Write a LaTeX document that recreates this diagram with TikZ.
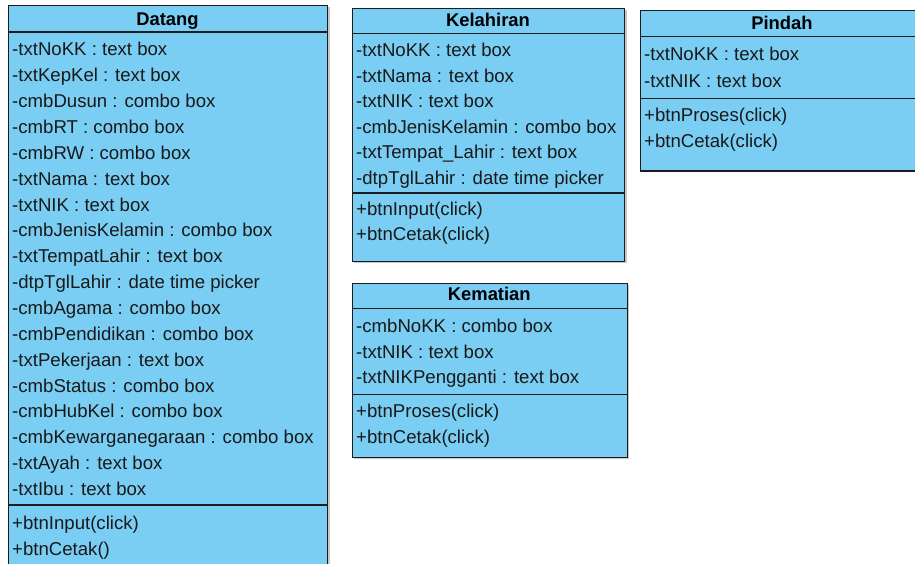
\documentclass[tikz,border=0pt]{standalone}
\usepackage{fontspec}
\setmainfont{Liberation Sans}
\definecolor{classfill}{RGB}{122,206,244}
\definecolor{classline}{RGB}{28,28,28}
\definecolor{membertext}{RGB}{25,25,25}
\tikzset{
  classbox/.style={draw=classline, fill=classfill, line width=1.3pt, inner sep=0pt, anchor=north west},
  boxshadow/.style={fill=black!22, draw=none},
  member/.style={anchor=base west, inner sep=0pt, text=membertext, font=\fontsize{18.6}{21}\selectfont},
  classname/.style={anchor=base, inner sep=0pt, text=black, font=\bfseries\fontsize{18.4}{21}\selectfont},
  divider/.style={draw=classline, line width=1.3pt},
}
\begin{document}
\begin{tikzpicture}[x=1pt,y=-1pt]
\useasboundingbox (0,0) rectangle (915,564);

% ---------- Datang ----------
\fill[boxshadow] (10,7) rectangle (330,580);
\node[classbox, minimum width=319pt, minimum height=575pt] (datang) at (8,5) {};
\node[classname] (datang-name) at (167.5,26) {Datang};
\draw[divider] (datang.west |- 0,32) -- (datang.east |- 0,32);
\foreach [count=\i] \t in {-txtNoKK : text box, -txtKepKel : text box, -cmbDusun : combo box,
  -cmbRT : combo box, -cmbRW : combo box, -txtNama : text box, -txtNIK : text box,
  -cmbJenisKelamin : combo box, -txtTempatLahir : text box, -dtpTglLahir : date time picker,
  -cmbAgama : combo box, -cmbPendidikan : combo box, -txtPekerjaan : text box,
  -cmbStatus : combo box, -cmbHubKel : combo box, -cmbKewarganegaraan : combo box,
  -txtAyah : text box, -txtIbu : text box}
  \node[member] (datang-a\i) at (12,{56+(\i-1)*25.85}) {\t};
\draw[divider] (datang.west |- 0,505) -- (datang.east |- 0,505);
\node[member] (datang-m1) at (12,529.5) {+btnInput(click)};
\node[member] (datang-m2) at (12,555.3) {+btnCetak()};

% ---------- Kelahiran ----------
\fill[boxshadow] (354,10) rectangle (626.5,263);
\node[classbox, minimum width=272pt, minimum height=253pt] (lahir) at (352,8) {};
\node[classname] (lahir-name) at (488,26.7) {Kelahiran};
\draw[divider] (lahir.west |- 0,33.5) -- (lahir.east |- 0,33.5);
\foreach [count=\i] \t in {-txtNoKK : text box, -txtNama : text box, -txtNIK : text box,
  -cmbJenisKelamin : combo box, -txtTempat\_Lahir : text box, -dtpTglLahir : date time picker}
  \node[member] (lahir-a\i) at (356,{56.7+(\i-1)*25.5}) {\t};
\draw[divider] (lahir.west |- 0,193) -- (lahir.east |- 0,193);
\node[member] (lahir-m1) at (356,215) {+btnInput(click)};
\node[member] (lahir-m2) at (356,240.7) {+btnCetak(click)};

% ---------- Kematian ----------
\fill[boxshadow] (354,285) rectangle (629,459);
\node[classbox, minimum width=274.5pt, minimum height=174pt] (mati) at (352,283) {};
\node[classname] (mati-name) at (489.3,300.7) {Kematian};
\draw[divider] (mati.west |- 0,308.5) -- (mati.east |- 0,308.5);
\foreach [count=\i] \t in {-cmbNoKK : combo box, -txtNIK : text box, -txtNIKPengganti : text box}
  \node[member] (mati-a\i) at (356,{332.5+(\i-1)*25.7}) {\t};
\draw[divider] (mati.west |- 0,394.7) -- (mati.east |- 0,394.7);
\node[member] (mati-m1) at (356,417.3) {+btnProses(click)};
\node[member] (mati-m2) at (356,443.3) {+btnCetak(click)};

% ---------- Pindah ----------
\fill[boxshadow] (641,12) rectangle (930,172.5);
\node[classbox, minimum width=286pt, minimum height=160.5pt] (pindah) at (639.5,10) {};
\node[classname] (pindah-name) at (782,29.3) {Pindah};
\draw[divider] (pindah.west |- 0,36.7) -- (pindah.east |- 0,36.7);
\node[member] (pindah-a1) at (644,60.7) {-txtNoKK : text box};
\node[member] (pindah-a2) at (644,87.3) {-txtNIK : text box};
\draw[divider] (pindah.west |- 0,98.3) -- (pindah.east |- 0,98.3);
\node[member] (pindah-m1) at (644,121.7) {+btnProses(click)};
\node[member] (pindah-m2) at (644,147.7) {+btnCetak(click)};
\end{tikzpicture}
\end{document}
